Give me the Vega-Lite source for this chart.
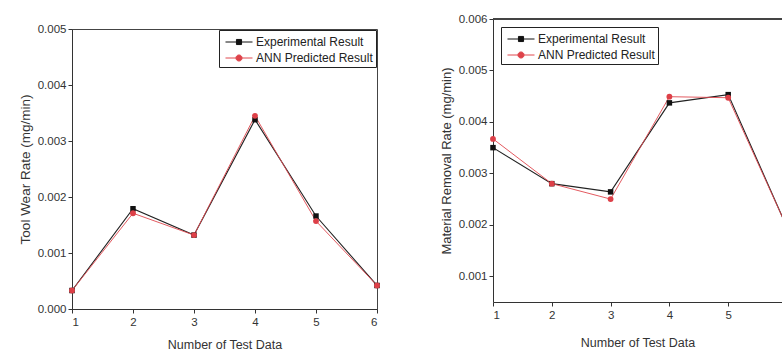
{
  "$schema": "https://vega.github.io/schema/vega-lite/v6.json",
  "background": "white",
  "padding": {"left": 17, "top": 6, "right": 0, "bottom": 0},
  "spacing": 58,
  "config": {
    "font": "Liberation Sans",
    "axis": {"grid": false, "domainColor": "#333", "tickColor": "#333", "labelColor": "#333", "titleColor": "#333", "labelFontSize": 11.5, "titleFontSize": 12.5, "titleFontWeight": "normal", "tickSize": 4, "labelPadding": 2, "titlePadding": 5},
    "view": {"stroke": "#444"},
    "legend": {"labelFontSize": 12, "labelColor": "#222"}
  },
  "datasets": {
    "tw": [
      {"test": 1, "series": "Experimental Result", "value": 0.00033},
      {"test": 2, "series": "Experimental Result", "value": 0.00179},
      {"test": 3, "series": "Experimental Result", "value": 0.00132},
      {"test": 4, "series": "Experimental Result", "value": 0.00338},
      {"test": 5, "series": "Experimental Result", "value": 0.00166},
      {"test": 6, "series": "Experimental Result", "value": 0.00042},
      {"test": 1, "series": "ANN Predicted Result", "value": 0.00033},
      {"test": 2, "series": "ANN Predicted Result", "value": 0.00171},
      {"test": 3, "series": "ANN Predicted Result", "value": 0.00132},
      {"test": 4, "series": "ANN Predicted Result", "value": 0.00345},
      {"test": 5, "series": "ANN Predicted Result", "value": 0.00157},
      {"test": 6, "series": "ANN Predicted Result", "value": 0.00042}
    ],
    "mrr": [
      {"test": 1, "series": "Experimental Result", "value": 0.00350},
      {"test": 2, "series": "Experimental Result", "value": 0.00280},
      {"test": 3, "series": "Experimental Result", "value": 0.00264},
      {"test": 4, "series": "Experimental Result", "value": 0.00437},
      {"test": 5, "series": "Experimental Result", "value": 0.00453},
      {"test": 6, "series": "Experimental Result", "value": 0.00195},
      {"test": 1, "series": "ANN Predicted Result", "value": 0.00367},
      {"test": 2, "series": "ANN Predicted Result", "value": 0.00280},
      {"test": 3, "series": "ANN Predicted Result", "value": 0.00250},
      {"test": 4, "series": "ANN Predicted Result", "value": 0.00449},
      {"test": 5, "series": "ANN Predicted Result", "value": 0.00447},
      {"test": 6, "series": "ANN Predicted Result", "value": 0.00195}
    ]
  },
  "hconcat": [
    {
      "spacing": 9,
      "resolve": {"legend": {"shape": "independent", "fill": "independent", "stroke": "independent"}, "scale": {"shape": "independent", "fill": "independent", "stroke": "independent"}},
      "vconcat": [
        {"width": 305, "height": 1, "view": {"stroke": null}, "data": {"values": [{"k": 1}]}, "mark": {"type": "point", "opacity": 0}, "encoding": {}},
        {
          "width": 305,
          "height": 280,
          "data": {"name": "tw"},
          "encoding": {
            "x": {"field": "test", "type": "quantitative", "scale": {"domain": [1, 6], "nice": false}, "axis": {"values": [1, 2, 3, 4, 5, 6], "format": "d", "title": "Number of Test Data", "labelPadding": 3, "titlePadding": 11}},
            "y": {"field": "value", "type": "quantitative", "scale": {"domain": [0, 0.005], "nice": false}, "axis": {"values": [0, 0.001, 0.002, 0.003, 0.004, 0.005], "format": ".3f", "title": "Tool Wear Rate (mg/min)", "titleFontSize": 13.5}}
          },
          "layer": [
            {"transform": [{"filter": "datum.series === 'Experimental Result'"}], "mark": {"type": "line", "strokeWidth": 1.1, "color": "#222"}, "encoding": {}},
            {"transform": [{"filter": "datum.series === 'ANN Predicted Result'"}], "mark": {"type": "line", "strokeWidth": 1, "color": "#e0484f", "opacity": 0.9}, "encoding": {}},
            {"transform": [{"filter": "datum.series === 'Experimental Result'"}], "mark": {"type": "point", "shape": "square", "filled": true, "size": 30, "color": "#111", "opacity": 1}, "encoding": {}},
            {"transform": [{"filter": "datum.series === 'ANN Predicted Result'"}], "mark": {"type": "point", "shape": "circle", "filled": true, "size": 34, "color": "#dd4048", "opacity": 1}, "encoding": {}},
            {
              "mark": {"type": "point", "opacity": 0, "strokeWidth": 1},
              "encoding": {
                "shape": {"field": "series", "type": "nominal", "scale": {"domain": ["Experimental Result", "ANN Predicted Result"], "range": ["M-1.59,0H1.59M-0.3,-0.3H0.3V0.3H-0.3Z", "M-1.59,0H1.59M0.36,0A0.36,0.36 0 1,1 -0.36,0A0.36,0.36 0 1,1 0.36,0Z"]},
                  "legend": {"title": null, "orient": "top-right", "offset": 1, "fillColor": "white", "strokeColor": "#222", "padding": 3, "rowPadding": 1, "symbolSize": 289, "symbolOffset": 8, "symbolOpacity": 1, "symbolStrokeWidth": 1, "labelOffset": 8, "labelFontSize": 12}},
                "fill": {"field": "series", "type": "nominal", "scale": {"domain": ["Experimental Result", "ANN Predicted Result"], "range": ["#111111", "#dd4048"]},
                  "legend": {"title": null, "orient": "top-right", "offset": 1, "fillColor": "white", "strokeColor": "#222", "padding": 3, "rowPadding": 1, "symbolSize": 289, "symbolOffset": 8, "symbolOpacity": 1, "symbolStrokeWidth": 1, "labelOffset": 8, "labelFontSize": 12}},
                "stroke": {"field": "series", "type": "nominal", "scale": {"domain": ["Experimental Result", "ANN Predicted Result"], "range": ["#111111", "#e0484f"]},
                  "legend": {"title": null, "orient": "top-right", "offset": 1, "fillColor": "white", "strokeColor": "#222", "padding": 3, "rowPadding": 1, "symbolSize": 289, "symbolOffset": 8, "symbolOpacity": 1, "symbolStrokeWidth": 1, "labelOffset": 8, "labelFontSize": 12}}
              }
            }
          ]
        }
      ]
    },
    {
      "spacing": 0,
      "resolve": {"legend": {"shape": "independent", "fill": "independent", "stroke": "independent"}, "scale": {"shape": "independent", "fill": "independent", "stroke": "independent"}},
      "vconcat": [
        {"width": 289, "height": 1, "view": {"stroke": null}, "data": {"values": [{"k": 1}]}, "mark": {"type": "point", "opacity": 0}, "encoding": {}},
        {
          "width": 289,
          "height": 283,
          "view": {"stroke": null},
          "data": {"name": "mrr"},
          "encoding": {
            "x": {"field": "test", "type": "quantitative", "scale": {"domain": [1, 5.915], "nice": false}, "axis": {"values": [1, 2, 3, 4, 5], "format": "d", "title": "Number of Test Data", "labelPadding": 3, "titlePadding": 16}},
            "y": {"field": "value", "type": "quantitative", "scale": {"domain": [0.0005, 0.006], "nice": false}, "axis": {"values": [0.001, 0.002, 0.003, 0.004, 0.005, 0.006], "format": ".3f", "title": "Material Removal Rate (mg/min)", "titleFontSize": 13}}
          },
          "layer": [
            {"mark": {"type": "rule", "color": "#444", "strokeWidth": 1}, "encoding": {"y": {"datum": 0.006}, "x": {"datum": 1}, "x2": {"datum": 5.915}}},
            {"transform": [{"filter": "datum.series === 'Experimental Result'"}], "mark": {"type": "line", "strokeWidth": 1.1, "color": "#222", "clip": true}, "encoding": {}},
            {"transform": [{"filter": "datum.series === 'ANN Predicted Result'"}], "mark": {"type": "line", "strokeWidth": 1, "color": "#e0484f", "opacity": 0.9, "clip": true}, "encoding": {}},
            {"transform": [{"filter": "datum.series === 'Experimental Result' && datum.test < 6"}], "mark": {"type": "point", "shape": "square", "filled": true, "size": 30, "color": "#111", "opacity": 1}, "encoding": {}},
            {"transform": [{"filter": "datum.series === 'ANN Predicted Result' && datum.test < 6"}], "mark": {"type": "point", "shape": "circle", "filled": true, "size": 34, "color": "#dd4048", "opacity": 1}, "encoding": {}},
            {
              "transform": [{"filter": "datum.test < 6"}],
              "mark": {"type": "point", "opacity": 0, "strokeWidth": 1},
              "encoding": {
                "shape": {"field": "series", "type": "nominal", "scale": {"domain": ["Experimental Result", "ANN Predicted Result"], "range": ["M-1.59,0H1.59M-0.3,-0.3H0.3V0.3H-0.3Z", "M-1.59,0H1.59M0.36,0A0.36,0.36 0 1,1 -0.36,0A0.36,0.36 0 1,1 0.36,0Z"]},
                  "legend": {"title": null, "orient": "top-left", "offset": 8, "fillColor": "white", "strokeColor": "#222", "padding": 3, "rowPadding": 1, "symbolSize": 289, "symbolOffset": 8, "symbolOpacity": 1, "symbolStrokeWidth": 1, "labelOffset": 8, "labelFontSize": 12}},
                "fill": {"field": "series", "type": "nominal", "scale": {"domain": ["Experimental Result", "ANN Predicted Result"], "range": ["#111111", "#dd4048"]},
                  "legend": {"title": null, "orient": "top-left", "offset": 8, "fillColor": "white", "strokeColor": "#222", "padding": 3, "rowPadding": 1, "symbolSize": 289, "symbolOffset": 8, "symbolOpacity": 1, "symbolStrokeWidth": 1, "labelOffset": 8, "labelFontSize": 12}},
                "stroke": {"field": "series", "type": "nominal", "scale": {"domain": ["Experimental Result", "ANN Predicted Result"], "range": ["#111111", "#e0484f"]},
                  "legend": {"title": null, "orient": "top-left", "offset": 8, "fillColor": "white", "strokeColor": "#222", "padding": 3, "rowPadding": 1, "symbolSize": 289, "symbolOffset": 8, "symbolOpacity": 1, "symbolStrokeWidth": 1, "labelOffset": 8, "labelFontSize": 12}}
              }
            }
          ]
        }
      ]
    }
  ],
  "resolve": {"legend": {"shape": "independent", "fill": "independent", "stroke": "independent"}, "scale": {"shape": "independent", "fill": "independent", "stroke": "independent"}}
}
